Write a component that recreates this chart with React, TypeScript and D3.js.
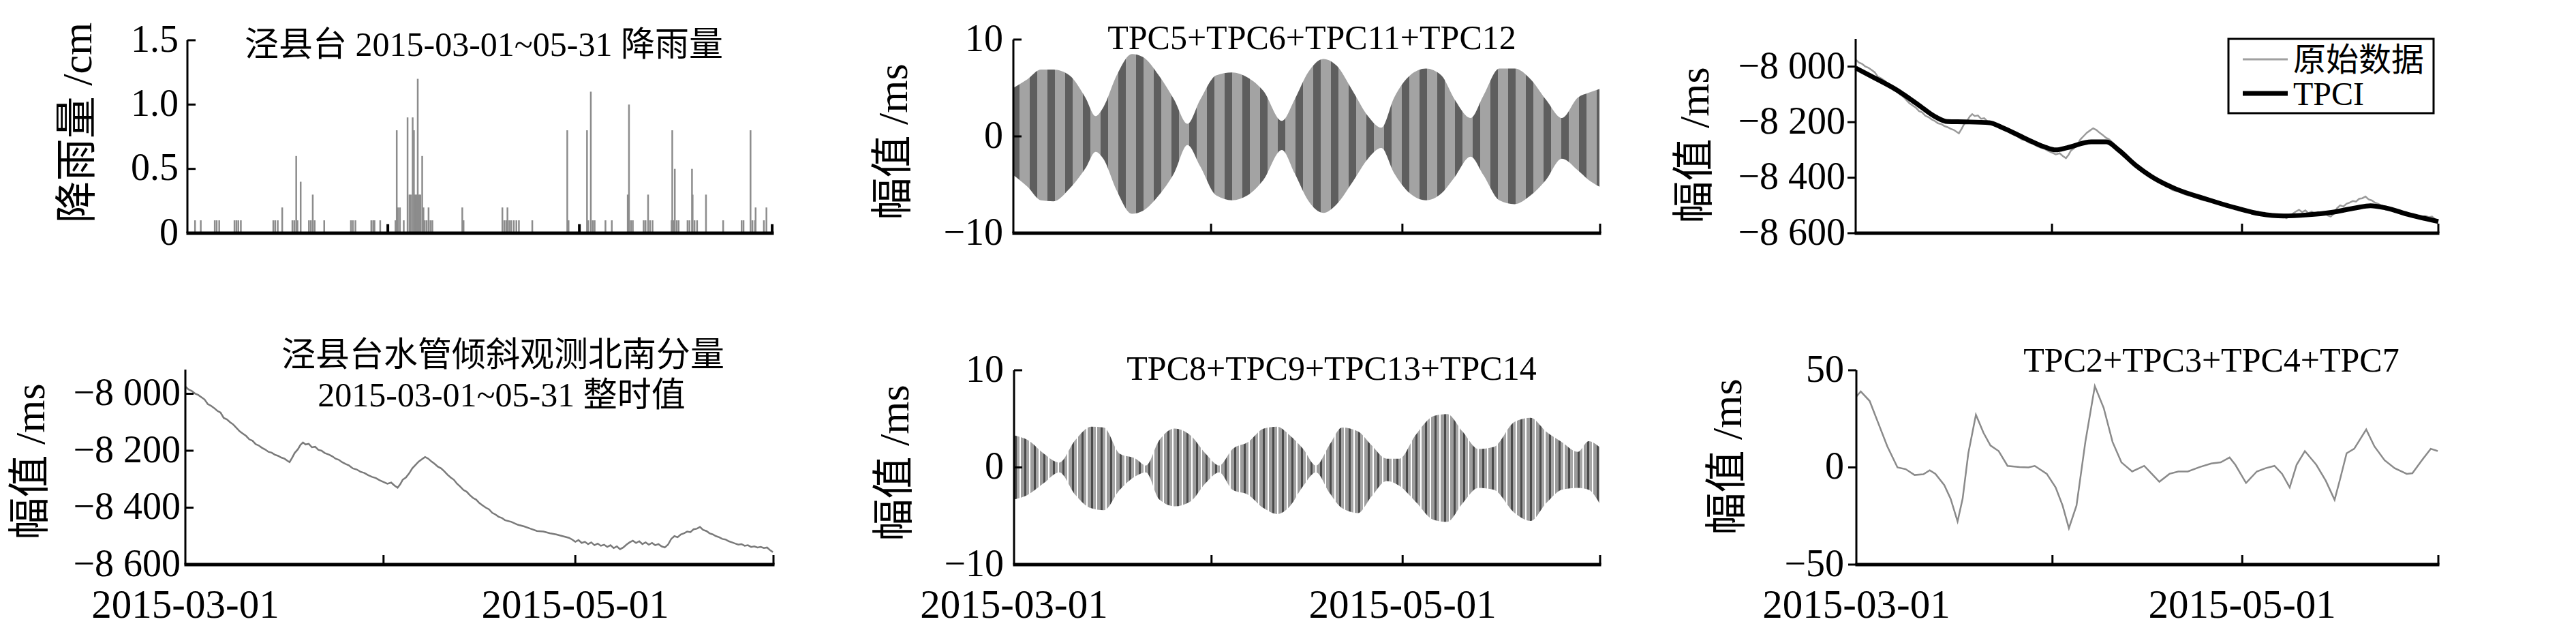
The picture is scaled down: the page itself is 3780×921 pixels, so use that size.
import React, { useEffect, useRef } from "react";
import * as d3 from "d3";

const FONT = "'Liberation Serif', 'Times New Roman', 'Noto Sans CJK SC', serif";
const START = Date.UTC(2015, 2, 1);
const END = Date.UTC(2015, 5, 1);

// rainfall: day offset from 2015-03-01, value in cm
const rainDays = [1.2, 2.1, 4.3, 4.6, 5.0, 7.4, 7.7, 8.0, 8.4, 13.5, 13.8, 14.2, 14.9, 16.5, 16.8, 17.1, 17.3, 17.8, 19.1, 19.4, 19.7, 20.0, 21.5, 25.7, 26.0, 26.4, 28.9, 29.2, 29.4, 30.3, 31.5, 32.7, 32.9, 33.1, 33.4, 34.0, 34.6, 34.9, 35.1, 35.4, 35.6, 35.8, 36.0, 36.2, 36.4, 36.6, 36.9, 37.1, 37.3, 37.6, 37.9, 38.2, 38.5, 43.2, 43.4, 49.5, 49.8, 50.1, 50.3, 50.6, 50.9, 51.3, 51.7, 52.1, 54.2, 59.7, 59.9, 61.6, 62.8, 63.0, 63.4, 63.7, 64.0, 65.7, 66.7, 69.2, 69.4, 69.7, 70.0, 71.7, 72.0, 72.4, 72.7, 73.1, 76.1, 76.2, 76.4, 76.6, 76.9, 77.2, 78.6, 78.9, 79.3, 79.4, 79.7, 80.1, 81.5, 84.2, 87.1, 87.4, 88.5, 88.8, 89.2, 89.3, 90.6, 91.0, 91.9];
const rainValues = [0.1, 0.1, 0.1, 0.1, 0.1, 0.1, 0.1, 0.1, 0.1, 0.1, 0.1, 0.1, 0.2, 0.1, 0.1, 0.6, 0.1, 0.4, 0.1, 0.1, 0.3, 0.1, 0.1, 0.1, 0.1, 0.1, 0.1, 0.1, 0.1, 0.1, 0.07, 0.1, 0.8, 0.2, 0.2, 0.1, 0.9, 0.3, 0.3, 0.9, 0.8, 0.3, 0.3, 1.2, 0.3, 0.3, 0.6, 0.2, 0.1, 0.1, 0.2, 0.1, 0.1, 0.2, 0.1, 0.2, 0.1, 0.1, 0.2, 0.1, 0.1, 0.1, 0.1, 0.1, 0.1, 0.8, 0.1, 0.07, 0.8, 0.1, 1.1, 0.1, 0.1, 0.1, 0.1, 0.3, 1.0, 0.1, 0.1, 0.1, 0.1, 0.3, 0.1, 0.1, 0.1, 0.8, 0.1, 0.5, 0.1, 0.1, 0.1, 0.1, 0.5, 0.3, 0.1, 0.1, 0.3, 0.1, 0.1, 0.1, 0.8, 0.1, 0.1, 0.2, 0.1, 0.2, 0.07];

// TPC5+TPC6+TPC11+TPC12 envelope (ms)
const semiDays = [0, 2.2, 4.3, 6.3, 8.8, 11.3, 12.9, 14.1, 16.2, 18.6, 20.3, 22.8, 25.2, 27.3, 29.3, 31.8, 34.3, 36.7, 39.2, 42.1, 44.1, 46.2, 48.6, 50.7, 53.2, 55.6, 57.7, 59.7, 62.2, 64.7, 67.1, 69.2, 71.7, 73.7, 76.2, 78.6, 81.1, 83.5, 86.0, 88.5, 90.2, 91.9];
const semiUpper = [5.0, 5.9, 6.9, 6.9, 6.3, 4.0, 2.1, 3.0, 6.3, 8.5, 8.2, 6.3, 3.8, 1.3, 3.8, 6.3, 6.6, 6.1, 4.7, 1.6, 3.8, 6.6, 8.0, 7.3, 4.7, 2.1, 0.9, 4.0, 6.3, 7.0, 6.3, 3.8, 1.9, 4.2, 7.0, 7.0, 5.9, 3.8, 1.9, 4.0, 4.5, 4.9];
const semiLower = [-4.0, -5.2, -6.6, -6.7, -5.4, -3.3, -1.6, -2.3, -5.6, -8.0, -7.7, -6.1, -3.8, -0.9, -3.1, -6.1, -6.6, -6.1, -4.5, -1.4, -3.8, -6.6, -7.9, -7.0, -4.7, -2.3, -1.2, -3.8, -5.9, -6.6, -5.9, -4.2, -2.1, -4.0, -6.6, -7.0, -6.1, -4.5, -2.3, -3.5, -4.5, -5.2];

// TPC8+TPC9+TPC13+TPC14 envelope (ms)
const diurDays = [0, 2.2, 4.7, 7.1, 9.6, 12.1, 14.1, 16.6, 19.1, 20.7, 22.8, 25.2, 27.7, 30.1, 32.2, 34.3, 36.7, 39.2, 41.3, 43.3, 45.4, 47.4, 49.5, 51.5, 54.0, 56.1, 58.5, 60.5, 63.0, 65.9, 68.0, 70.4, 72.9, 75.3, 78.6, 81.1, 83.5, 86.0, 88.5, 90.2, 91.9];
const diurUpper = [3.3, 2.8, 1.4, 0.5, 2.8, 4.2, 4.1, 1.4, 0.9, 0.2, 2.8, 4.0, 3.3, 1.4, 0.2, 1.9, 2.6, 4.0, 4.2, 3.3, 1.9, 0.2, 2.3, 4.1, 3.7, 2.3, 0.9, 0.9, 3.3, 5.3, 5.5, 3.7, 1.9, 2.1, 4.7, 5.1, 3.7, 2.6, 1.6, 2.7, 2.1];
const diurLower = [-3.3, -2.8, -1.6, -0.5, -2.8, -4.2, -4.4, -2.3, -0.9, -0.5, -3.3, -4.0, -3.5, -1.6, -0.5, -2.3, -2.8, -4.2, -4.8, -4.0, -1.9, -0.5, -2.6, -4.2, -4.7, -3.0, -1.4, -1.9, -3.5, -5.4, -5.6, -3.7, -2.1, -2.3, -4.7, -5.5, -3.7, -2.3, -2.1, -2.3, -3.7];

// 原始数据 (hourly tilt, north-south, ms)
const rawDays = [0, 0.5, 1, 1.5, 2, 2.5, 3, 3.5, 4, 4.5, 5, 5.5, 6, 6.5, 7, 7.5, 8, 8.5, 9, 9.5, 10, 10.5, 11, 11.5, 12, 12.5, 13, 13.5, 14, 14.5, 15, 15.5, 16, 16.3, 16.7, 17.1, 17.6, 18, 18.4, 18.8, 19.3, 19.8, 20.3, 20.8, 21.3, 21.8, 22.5, 23, 23.5, 24, 24.5, 25, 25.6, 26.2, 26.8, 27.4, 28, 28.6, 29.2, 29.8, 30.4, 31, 31.6, 32.2, 32.7, 33.2, 33.6, 34, 34.5, 35, 35.5, 36, 36.5, 37, 37.5, 38, 38.5, 39, 39.5, 40, 40.5, 41, 41.5, 42, 42.5, 43, 43.5, 44, 44.5, 45, 45.5, 46, 46.5, 47, 47.5, 48, 48.5, 49, 49.5, 50, 51, 52, 53, 54, 55, 56, 57, 58, 59, 60, 60.5, 61, 61.5, 62, 62.5, 63, 63.5, 64, 64.5, 65, 65.5, 66, 66.5, 67, 67.5, 68, 68.5, 69, 69.5, 70, 70.5, 71, 71.5, 72, 72.5, 73, 73.5, 74, 74.5, 75, 75.5, 76, 76.5, 77, 77.5, 78, 78.5, 79, 79.5, 80, 80.5, 81, 81.5, 82, 82.5, 83, 83.5, 84, 84.5, 85, 85.5, 86, 86.5, 87, 87.5, 88, 88.5, 89, 89.5, 90, 90.5, 91, 91.5, 91.9];
const rawValues = [-7975, -7985, -7990, -7999, -8004, -8012, -8020, -8036, -8042, -8050, -8060, -8066, -8085, -8090, -8100, -8108, -8120, -8132, -8140, -8148, -8160, -8165, -8177, -8182, -8190, -8196, -8204, -8207, -8214, -8218, -8224, -8228, -8236, -8240, -8225, -8208, -8195, -8180, -8171, -8178, -8176, -8188, -8186, -8197, -8200, -8208, -8214, -8220, -8228, -8232, -8240, -8246, -8252, -8262, -8266, -8274, -8278, -8286, -8292, -8296, -8304, -8310, -8316, -8312, -8322, -8330, -8318, -8302, -8294, -8280, -8262, -8250, -8238, -8230, -8222, -8228, -8238, -8246, -8256, -8262, -8272, -8284, -8294, -8302, -8316, -8326, -8338, -8344, -8356, -8366, -8372, -8384, -8392, -8400, -8406, -8418, -8424, -8432, -8436, -8444, -8450, -8460, -8466, -8474, -8482, -8484, -8490, -8494, -8500, -8506, -8512, -8520, -8514, -8524, -8520, -8528, -8522, -8532, -8526, -8534, -8530, -8538, -8532, -8542, -8536, -8546, -8540, -8530, -8522, -8516, -8524, -8518, -8528, -8522, -8530, -8524, -8532, -8528, -8536, -8540, -8530, -8510, -8500, -8504, -8494, -8490, -8484, -8486, -8476, -8474, -8468, -8478, -8482, -8490, -8494, -8500, -8504, -8510, -8512, -8518, -8522, -8526, -8530, -8528, -8534, -8532, -8538, -8536, -8540, -8538, -8542, -8540, -8550, -8556];

// TPCI trend (ms)
const trendDays = [0, 3.1, 6.4, 9.8, 12.6, 14.5, 17.3, 21.1, 23.0, 26.8, 29.7, 31.6, 33.4, 37.2, 39.6, 41.5, 44.3, 47.2, 50.5, 55.2, 60.0, 63.8, 67.6, 71.3, 75.1, 78.9, 81.3, 83.7, 87.5, 92];
const trendValues = [-8005, -8042, -8083, -8136, -8181, -8198, -8199, -8202, -8218, -8259, -8288, -8300, -8292, -8271, -8271, -8300, -8357, -8403, -8440, -8476, -8509, -8530, -8538, -8534, -8525, -8509, -8501, -8509, -8534, -8558];

// TPC2+TPC3+TPC4+TPC7 (ms)
const lowDays = [0, 0.7, 2.1, 3.5, 4.9, 6.5, 7.8, 9.2, 10.6, 11.6, 12.5, 13.9, 14.9, 16.0, 16.8, 17.7, 18.9, 20.1, 21.2, 22.5, 23.9, 25.8, 27.2, 28.2, 30.1, 31.5, 32.6, 33.6, 34.8, 36.2, 37.7, 39.1, 40.5, 41.9, 43.6, 45.5, 46.7, 47.9, 49.5, 50.9, 52.4, 54.3, 56.1, 57.6, 59.0, 59.9, 61.6, 63.3, 64.7, 66.1, 67.3, 68.5, 69.6, 70.9, 72.7, 74.2, 75.6, 76.5, 77.5, 78.7, 80.6, 81.9, 83.5, 85.1, 87.0, 87.9, 89.4, 90.8, 91.9];
const lowValues = [36.5, 39.1, 34.2, 22.5, 10.8, 0, -0.9, -3.9, -3.5, -1.5, -3.3, -9.1, -16.1, -27.8, -16.1, 7.3, 27.1, 17.8, 11.3, 8.4, 0.8, 0.2, 0, 0.8, -3.3, -10.3, -19.6, -31.3, -19.6, 13.1, 41.8, 30.6, 13.1, 2.6, -2.1, 0.8, -3.3, -7.4, -3.3, -2.1, -2.1, 0.2, 2.0, 2.6, 5.1, 1.4, -8.0, -2.1, -0.4, 0.8, -3.3, -10.3, 1.4, 8.4, 1.4, -6.8, -16.7, -5.6, 7.3, 9.6, 19.5, 10.8, 3.7, -0.4, -3.3, -3.0, 3.7, 9.6, 8.4];

const rainTicks = [0, 0.5, 1.0, 1.5];
const rainTickLabels = ["0", "0.5", "1.0", "1.5"];
const tideTicks = [-10, 0, 10];
const tideTickLabels = ["−10", "0", "10"];
const tiltTicks = [-8600, -8400, -8200, -8000];
const tiltTickLabels = ["−8 600", "−8 400", "−8 200", "−8 000"];
const lowTicks = [-50, 0, 50];
const lowTickLabels = ["−50", "0", "50"];
const dateLabels = ["2015-03-01", "2015-05-01"];
const legendLabels = ["原始数据", "TPCI"];

const toDate = (d: number) => new Date(START + d * 864e5);

type G = d3.Selection<SVGGElement, unknown, null, undefined>;

function yAxis(g: G, y: d3.ScaleLinear<number, number>, x: number, ticks: number[], labels: string[], outward: boolean, labelEnd: number) {
  const [d0, d1] = y.domain();
  g.append("line").attr("x1", x).attr("x2", x).attr("y1", y(d0)).attr("y2", y(d1))
    .attr("stroke", "#000").attr("stroke-width", 3);
  ticks.forEach((t, i) => {
    g.append("line").attr("x1", x).attr("x2", outward ? x - 12 : x + 12)
      .attr("y1", y(t)).attr("y2", y(t)).attr("stroke", "#000").attr("stroke-width", 3);
    g.append("text").attr("x", labelEnd).attr("y", y(t)).attr("dy", "0.3em")
      .attr("text-anchor", "end").attr("font-size", 56).attr("font-family", FONT)
      .text(labels[i]);
  });
}

function xAxis(g: G, x: d3.ScaleTime<number, number>, y: number, ticks: boolean, labels: boolean) {
  const [r0, r1] = x.range();
  g.append("line").attr("x1", r0 - 1.5).attr("x2", r1 + 1.5).attr("y1", y).attr("y2", y)
    .attr("stroke", "#000").attr("stroke-width", 5);
  if (ticks) {
    d3.utcMonth.range(new Date(START + 1), new Date(END + 1)).forEach((d) => {
      g.append("line").attr("x1", x(d)).attr("x2", x(d)).attr("y1", y).attr("y2", y - 14)
        .attr("stroke", "#000").attr("stroke-width", 3);
    });
  }
  if (labels) {
    const parse = d3.utcParse("%Y-%m-%d");
    dateLabels.forEach((s) => {
      g.append("text").attr("x", x(parse(s) as Date)).attr("y", 906)
        .attr("text-anchor", "middle").attr("font-size", 59).attr("font-family", FONT).text(s);
    });
  }
}

function yLabel(g: G, cx: number, cy: number, text: string) {
  g.append("text").attr("transform", `translate(${cx},${cy}) rotate(-90)`)
    .attr("text-anchor", "middle").attr("dy", "0.36em").attr("font-size", 62)
    .attr("font-family", FONT).text(text);
}

function title(g: G, cx: number, y: number, text: string, size = 50) {
  g.append("text").attr("x", cx).attr("y", y).attr("text-anchor", "middle")
    .attr("font-size", size).attr("font-family", FONT).text(text);
}

const makeX = (x0: number, x1: number) =>
  d3.scaleUtc().domain([new Date(START), new Date(END)]).range([x0, x1]);

export default function App() {
  const ref = useRef<SVGSVGElement>(null);

  useEffect(() => {
    const svg = d3.select(ref.current);
    svg.selectAll("*").remove();

    const defs = svg.append("defs");
    const p1 = defs.append("pattern").attr("id", "semi").attr("patternUnits", "userSpaceOnUse")
      .attr("width", 26).attr("height", 10);
    p1.append("rect").attr("width", 26).attr("height", 10).attr("fill", "#a3a3a3");
    p1.append("rect").attr("x", 3).attr("width", 11).attr("height", 10).attr("fill", "#5e5e5e");
    const p2 = defs.append("pattern").attr("id", "diur").attr("patternUnits", "userSpaceOnUse")
      .attr("width", 14).attr("height", 10);
    p2.append("rect").attr("width", 14).attr("height", 10).attr("fill", "#fff");
    p2.append("rect").attr("x", 0).attr("width", 5).attr("height", 10).attr("fill", "#9c9c9c");
    p2.append("rect").attr("x", 5).attr("width", 3).attr("height", 10).attr("fill", "#4a4a4a");
    p2.append("rect").attr("x", 8).attr("width", 4).attr("height", 10).attr("fill", "#a6a6a6");

    const g = svg.append("g") as unknown as G;

    // ---- panel 1: rainfall
    {
      const x = makeX(275, 1134);
      const y = d3.scaleLinear().domain([0, 1.5]).range([342, 59]);
      const rain = rainDays.map((d, i) => ({ d, v: rainValues[i] }));
      g.selectAll(".rain").data(rain).enter().append("line")
        .attr("x1", (r) => x(toDate(r.d))).attr("x2", (r) => x(toDate(r.d)))
        .attr("y1", y(0)).attr("y2", (r) => y(r.v))
        .attr("stroke", (r) => (r.v < 0.09 ? "#000" : "#8c8c8c"))
        .attr("stroke-width", (r) => (r.v < 0.09 ? 4 : 2.5));
      yAxis(g, y, 275, rainTicks, rainTickLabels, false, 262);
      xAxis(g, x, 342, false, false);
      yLabel(g, 112, 180, "降雨量 /cm");
      title(g, 710, 82, "泾县台 2015-03-01~05-31 降雨量");
    }

    // ---- panel 2: semidiurnal components
    {
      const x = makeX(1487, 2348);
      const y = d3.scaleLinear().domain([-10, 10]).range([342, 58]);
      const env = semiDays.map((d, i) => ({ d, hi: semiUpper[i], lo: semiLower[i] }));
      const area = d3.area<{ d: number; hi: number; lo: number }>()
        .x((e) => x(toDate(e.d))).y0((e) => y(e.lo)).y1((e) => y(e.hi))
        .curve(d3.curveMonotoneX);
      g.append("path").datum(env).attr("d", area).attr("fill", "url(#semi)");
      yAxis(g, y, 1487, tideTicks, tideTickLabels, false, 1472);
      xAxis(g, x, 342, true, false);
      yLabel(g, 1309, 208, "幅值 /ms");
      title(g, 1925, 72, "TPC5+TPC6+TPC11+TPC12");
    }

    // ---- panel 3: raw data + TPCI trend
    {
      const x = makeX(2723, 3578);
      const y = d3.scaleLinear().domain([-8600, -7900]).range([342, 57]);
      const line = d3.line<number>().x((_, i) => x(toDate(rawDays[i]))).y((v) => y(v));
      g.append("path").datum(rawValues).attr("d", line).attr("fill", "none")
        .attr("stroke", "#9a9a9a").attr("stroke-width", 2.5);
      const tline = d3.line<number>().x((_, i) => x(toDate(trendDays[i]))).y((v) => y(v))
        .curve(d3.curveMonotoneX);
      g.append("path").datum(trendValues).attr("d", tline).attr("fill", "none")
        .attr("stroke", "#000").attr("stroke-width", 7);
      yAxis(g, y, 2723, tiltTicks, tiltTickLabels, true, 2708);
      xAxis(g, x, 342, true, false);
      yLabel(g, 2485, 213, "幅值 /ms");

      const lg = g.append("g");
      lg.append("rect").attr("x", 3270).attr("y", 57).attr("width", 301).attr("height", 109)
        .attr("fill", "#fff").attr("stroke", "#000").attr("stroke-width", 3);
      const styles = [{ c: "#a0a0a0", w: 3 }, { c: "#000", w: 7 }];
      legendLabels.forEach((s, i) => {
        const cy = 87 + i * 50;
        lg.append("line").attr("x1", 3291).attr("x2", 3357).attr("y1", cy).attr("y2", cy)
          .attr("stroke", styles[i].c).attr("stroke-width", styles[i].w);
        lg.append("text").attr("x", 3365).attr("y", cy).attr("dy", "0.36em")
          .attr("font-size", 48).attr("font-family", FONT).text(s);
      });
    }

    // ---- panel 4: raw hourly series
    {
      const x = makeX(272, 1135);
      const y = d3.scaleLinear().domain([-8600, -7915]).range([828, 542]);
      const line = d3.line<number>().x((_, i) => x(toDate(rawDays[i]))).y((v) => y(v));
      g.append("path").datum(rawValues).attr("d", line).attr("fill", "none")
        .attr("stroke", "#7a7a7a").attr("stroke-width", 2.5);
      yAxis(g, y, 272, tiltTicks, tiltTickLabels, false, 265);
      xAxis(g, x, 828, true, true);
      yLabel(g, 43, 677, "幅值 /ms");
      title(g, 738, 537, "泾县台水管倾斜观测北南分量");
      title(g, 736, 596, "2015-03-01~05-31 整时值");
    }

    // ---- panel 5: diurnal components
    {
      const x = makeX(1488, 2348);
      const y = d3.scaleLinear().domain([-10, 10]).range([828, 543]);
      const env = diurDays.map((d, i) => ({ d, hi: diurUpper[i], lo: diurLower[i] }));
      const area = d3.area<{ d: number; hi: number; lo: number }>()
        .x((e) => x(toDate(e.d))).y0((e) => y(e.lo)).y1((e) => y(e.hi))
        .curve(d3.curveMonotoneX);
      g.append("path").datum(env).attr("d", area).attr("fill", "url(#diur)");
      yAxis(g, y, 1488, tideTicks, tideTickLabels, false, 1473);
      xAxis(g, x, 828, true, true);
      yLabel(g, 1311, 679, "幅值 /ms");
      title(g, 1954, 557, "TPC8+TPC9+TPC13+TPC14");
    }

    // ---- panel 6: long-period components
    {
      const x = makeX(2724, 3578);
      const y = d3.scaleLinear().domain([-50, 50]).range([828, 543]);
      const line = d3.line<number>().x((_, i) => x(toDate(lowDays[i]))).y((v) => y(v));
      g.append("path").datum(lowValues).attr("d", line).attr("fill", "none")
        .attr("stroke", "#8a8a8a").attr("stroke-width", 2.5);
      yAxis(g, y, 2724, lowTicks, lowTickLabels, true, 2706);
      xAxis(g, x, 828, true, true);
      yLabel(g, 2533, 670, "幅值 /ms");
      title(g, 3245, 545, "TPC2+TPC3+TPC4+TPC7");
    }
  }, []);

  return (
    <svg ref={ref} width={3780} height={921}
      style={{ position: "absolute", left: 0, top: 0, background: "#fff" }} />
  );
}
